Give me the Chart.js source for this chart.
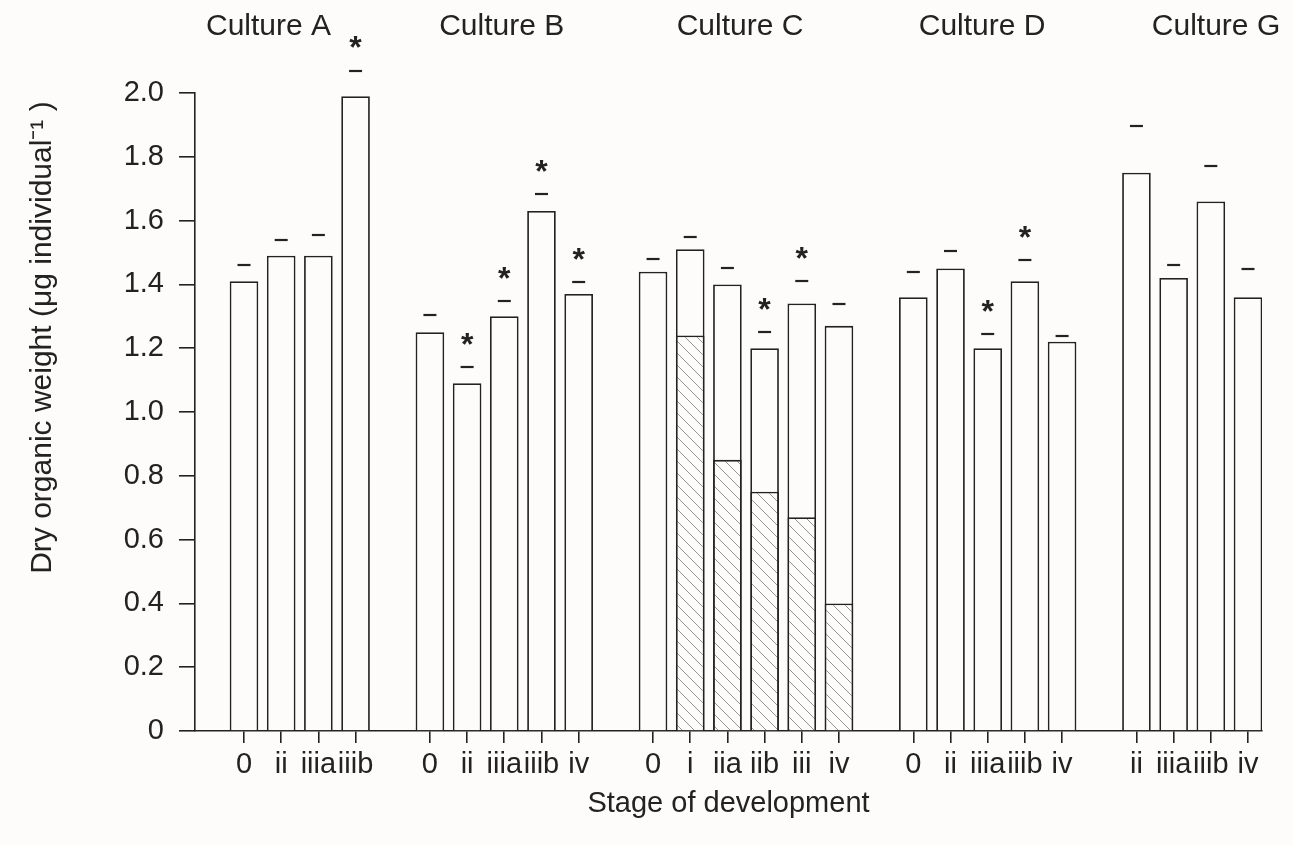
<!DOCTYPE html>
<html><head><meta charset="utf-8">
<script src="https://cdn.jsdelivr.net/npm/chart.js@4/dist/chart.umd.min.js"></script>
<style>html,body{margin:0;padding:0;background:#fdfcfa;overflow:hidden}#wrap{width:1293px;height:845px;position:relative}</style>
</head><body><div id="wrap"><canvas id="c"></canvas></div>
<script>
// ---- data ----
const cultures = ['Culture A', 'Culture B', 'Culture C', 'Culture D', 'Culture G'];
const stagesA = ['0', 'ii', 'iiia', 'iiib'];
const stagesB = ['0', 'ii', 'iiia', 'iiib', 'iv'];
const stagesC = ['0', 'i', 'iia', 'iib', 'iii', 'iv'];
const stagesD = ['0', 'ii', 'iiia', 'iiib', 'iv'];
const stagesG = ['ii', 'iiia', 'iiib', 'iv'];
// dry organic weight (bar tops)
const weightA = [1.41, 1.49, 1.49, 1.99];
const weightB = [1.25, 1.09, 1.30, 1.63, 1.37];
const weightC = [1.44, 1.51, 1.40, 1.20, 1.34, 1.27];
const weightD = [1.36, 1.45, 1.20, 1.41, 1.22];
const weightG = [1.75, 1.42, 1.66, 1.36];
// hatched portion (Culture C)
const hatchedC = [null, 1.24, 0.85, 0.75, 0.67, 0.40];
// upper error marks
const upperA = [1.46, 1.54, 1.555, 2.07];
const upperB = [1.305, 1.14, 1.348, 1.683, 1.407];
const upperC = [1.48, 1.55, 1.45, 1.25, 1.41, 1.34];
const upperD = [1.44, 1.505, 1.245, 1.475, 1.237];
const upperG = [1.895, 1.46, 1.772, 1.448];
// significance asterisks
const signifA = [false, false, false, true];
const signifB = [false, true, true, true, true];
const signifC = [false, false, false, true, true, false];
const signifD = [false, false, true, true, false];
const signifG = [false, false, false, false];
const yTickStep = 0.2;

// ---- build bar list (one empty slot between cultures) ----
const groups = [
  {stages: stagesA, w: weightA, up: upperA, sig: signifA, h: null},
  {stages: stagesB, w: weightB, up: upperB, sig: signifB, h: null},
  {stages: stagesC, w: weightC, up: upperC, sig: signifC, h: hatchedC},
  {stages: stagesD, w: weightD, up: upperD, sig: signifD, h: null},
  {stages: stagesG, w: weightG, up: upperG, sig: signifG, h: null}
];
const bars = [];
let slot = 0;
groups.forEach(g => {
  g.stages.forEach((s, i) => {
    bars.push({x: slot, label: s, w: g.w[i], up: g.up[i], sig: g.sig[i], h: g.h ? g.h[i] : null});
    slot++;
  });
  slot++;
});

const INK = '#222222';
const BG = '#fdfcfa';
const FONT = 'Liberation Sans';
const titleSlots = [0.66, 6.93, 13.34, 19.85, 26.14];

function hatchPattern() {
  const n = 12;
  const c = document.createElement('canvas');
  c.width = n; c.height = n;
  const g = c.getContext('2d');
  g.fillStyle = BG; g.fillRect(0, 0, n, n);
  g.strokeStyle = '#959595'; g.lineWidth = 1;
  g.beginPath();
  g.moveTo(-1, -1); g.lineTo(n + 1, n + 1);
  g.moveTo(-1, n - 1); g.lineTo(1, n + 1);
  g.moveTo(n - 1, -1); g.lineTo(n + 1, 1);
  g.stroke();
  return g.createPattern(c, 'repeat');
}

// error caps and significance asterisks, positioned through the chart scales
const markPlugin = {
  id: 'marks',
  afterDatasetsDraw(chart) {
    const {ctx, scales: {x, y}} = chart;
    ctx.save();
    ctx.strokeStyle = INK;
    ctx.lineWidth = 2.2;
    bars.forEach(b => {
      const px = x.getPixelForValue(b.x), py = Math.round(y.getPixelForValue(b.up));
      ctx.beginPath();
      ctx.moveTo(px - 6.5, py);
      ctx.lineTo(px + 6.5, py);
      ctx.stroke();
    });
    ctx.font = 'bold 32px "' + FONT + '"';
    ctx.fillStyle = INK;
    ctx.textAlign = 'center';
    ctx.textBaseline = 'middle';
    bars.forEach(b => {
      if (b.sig) ctx.fillText('*', x.getPixelForValue(b.x), y.getPixelForValue(b.up) - 21);
    });
    ctx.restore();
  }
};

const xMin = -1.3177, xMax = 27.3765;

new Chart(document.getElementById('c'), {
  type: 'bar',
  data: {
    datasets: [
      {
        type: 'bar', label: 'hatched',
        data: bars.filter(b => b.h != null).map(b => ({x: b.x, y: b.h})),
        backgroundColor: hatchPattern(), borderColor: INK, borderWidth: 1.8,
        grouped: false, barPercentage: 0.77, categoryPercentage: 1
      },
      {
        type: 'bar', label: 'weight',
        data: bars.map(b => ({x: b.x, y: b.w})),
        backgroundColor: BG, borderColor: INK, borderWidth: 1.8,
        grouped: false, barPercentage: 0.77, categoryPercentage: 1
      }
    ]
  },
  options: {
    responsive: true, maintainAspectRatio: false, animation: false, events: [],
    layout: {padding: {left: 0, right: 31, top: 0, bottom: 0}},
    plugins: {legend: {display: false}, tooltip: {enabled: false}},
    scales: {
      x: {
        type: 'linear', position: 'bottom', min: xMin, max: xMax, bounds: 'data', offset: false,
        afterBuildTicks(s) { s.ticks = bars.map(b => ({value: b.x})); },
        afterFit(s) { s.height = 114; },
        ticks: {
          autoSkip: false, maxRotation: 0, minRotation: 0, padding: 5, color: INK,
          font: {family: FONT, size: 29},
          callback: (v, i) => bars[i] ? bars[i].label : ''
        },
        grid: {display: true, offset: false, drawOnChartArea: false, drawTicks: true, tickLength: 12, color: INK, lineWidth: 1.6},
        border: {display: true, color: INK, width: 1.6},
        title: {display: true, text: 'Stage of development', color: INK, font: {family: FONT, size: 29}, padding: {top: 0, bottom: 24}}
      },
      xTop: {
        type: 'linear', axis: 'x', position: 'top', min: xMin, max: xMax, bounds: 'data', offset: false,
        afterBuildTicks(s) { s.ticks = titleSlots.map(v => ({value: v})); },
        afterFit(s) { s.height = 93; },
        ticks: {
          autoSkip: false, maxRotation: 0, minRotation: 0, padding: 0, color: INK,
          font: {family: FONT, size: 30},
          callback: (v, i) => cultures[i]
        },
        grid: {display: false, offset: false, drawTicks: true, tickLength: 48},
        border: {display: false}
      },
      y: {
        type: 'linear', min: 0, max: 2.0,
        afterFit(s) { s.width = 195; },
        ticks: {
          stepSize: yTickStep, padding: 15, color: INK, font: {family: FONT, size: 29},
          callback: v => (Math.abs(v) < 1e-9 ? '0' : v.toFixed(1))
        },
        grid: {display: true, drawOnChartArea: false, drawTicks: true, tickLength: 16, color: INK, lineWidth: 1.6},
        border: {display: true, color: INK, width: 1.6},
        title: {display: true, text: 'Dry organic weight (μg individual⁻¹ ) ', align: 'end', color: INK,
          font: {family: FONT, size: 30}, padding: {top: 25, bottom: 0}}
      }
    }
  },
  plugins: [markPlugin]
});
</script>
</body></html>
